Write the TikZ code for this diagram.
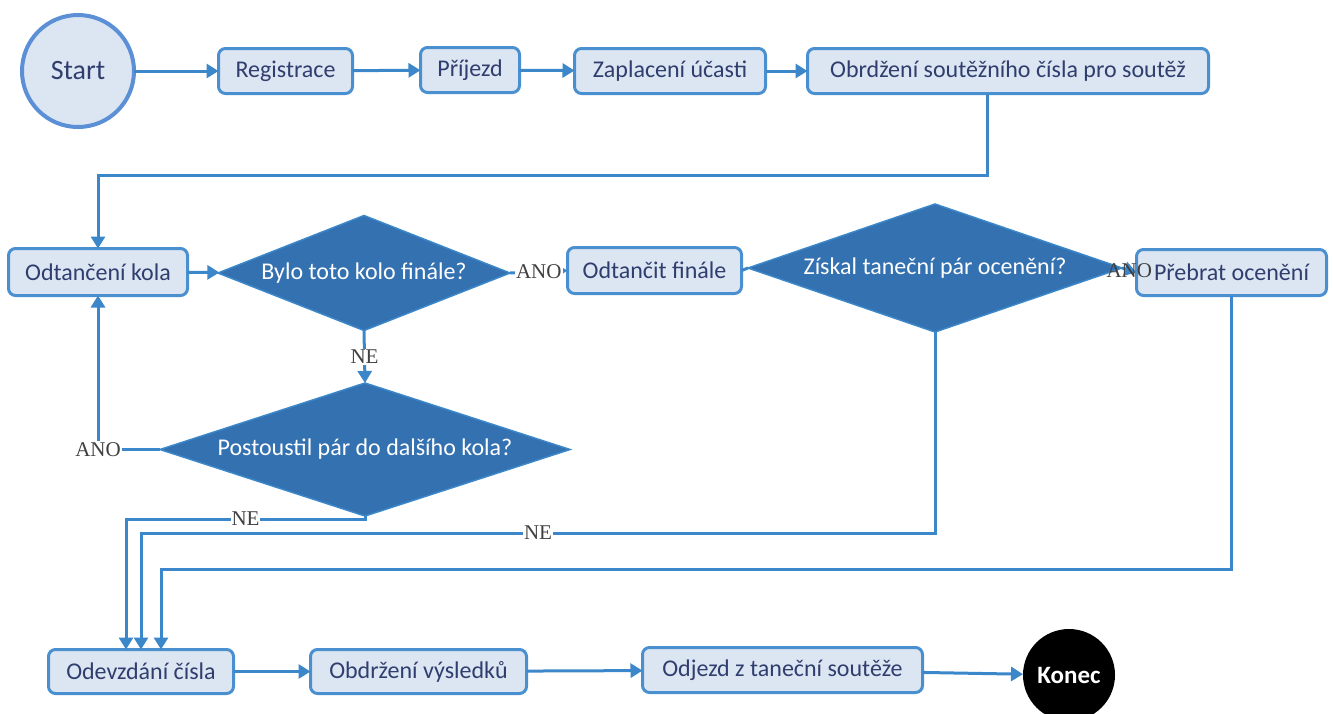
\documentclass[tikz,border=0pt]{standalone}
\usepackage{fontspec}
\setmainfont{Carlito}
\newfontfamily\lblfont{Liberation Serif}
\usetikzlibrary{shapes.geometric,arrows.meta}
\definecolor{boxfill}{HTML}{DCE6F2}
\definecolor{boxline}{HTML}{4A90D0}
\definecolor{startline}{HTML}{5B8FD6}
\definecolor{conn}{HTML}{3B87C9}
\definecolor{decfill}{HTML}{3471B1}
\definecolor{navy}{HTML}{2F3E6E}
\definecolor{lblgray}{HTML}{404040}
\begin{document}
\begin{tikzpicture}[x=1pt,y=-1pt,
  every node/.style={inner sep=0pt, outer sep=0pt},
  stepbox/.style={draw=boxline, fill=boxfill, line width=3pt, rounded corners=7pt,
    text=navy, font=\fontsize{24}{28}\selectfont},
  decision/.style={diamond, draw=conn, fill=decfill, line width=1.5pt,
    text=white, font=\fontsize{24}{28}\selectfont},
  link/.style={draw=conn, line width=3pt, -{Triangle[length=12pt,width=14pt]}},
  plainlink/.style={draw=conn, line width=3pt},
  lbl/.style={font=\lblfont\fontsize{21}{24}\selectfont, text=lblgray, inner sep=1pt},
  lblbg/.style={lbl, fill=white}]
\useasboundingbox (0,0) rectangle (1333,713);

% start and end
\node[circle, draw=startline, fill=boxfill, line width=4pt, minimum size=112pt,
  text=navy, font=\fontsize{28}{32}\selectfont] (start) at (78,71) {Start};
\node[circle, fill=black, minimum size=92pt, text=white,
  font=\bfseries\fontsize{25}{28}\selectfont] (konec) at (1069,675) {Konec};

% process steps
\node[stepbox, minimum width=134pt, minimum height=45pt] (reg) at (285.5,71) {Registrace};
\node[stepbox, minimum width=99pt, minimum height=45pt] (prj) at (470,70) {Příjezd};
\node[stepbox, minimum width=191pt, minimum height=45pt] (zap) at (670,71) {Zaplacení účasti};
\node[stepbox, minimum width=401pt, minimum height=45pt] (obr) at (1008,71) {Obrdžení soutěžního čísla pro soutěž};
\node[stepbox, minimum width=179pt, minimum height=47pt] (odt) at (98,272) {Odtančení kola};
\node[stepbox, minimum width=174pt, minimum height=46pt] (fin) at (654.5,270.5) {Odtančit finále};
\node[stepbox, minimum width=190pt, minimum height=46pt] (prb) at (1231.5,272.5) {Přebrat ocenění};
\node[stepbox, minimum width=185pt, minimum height=44pt] (ode) at (141,671.5) {Odevzdání čísla};
\node[stepbox, minimum width=216pt, minimum height=44pt] (obd) at (418.5,671.5) {Obdržení výsledků};
\node[stepbox, minimum width=280pt, minimum height=45pt] (odj) at (782.5,670) {Odjezd z taneční soutěže};

% decisions
\node[decision, aspect=2.54, minimum width=292pt, minimum height=115pt] (d1) at (364,273) {Bylo toto kolo finále?};
\node[decision, aspect=2.92, minimum width=374pt, minimum height=128pt] (d2) at (935,268) {Získal taneční pár ocenění?};
\node[decision, aspect=3.08, minimum width=410pt, minimum height=133pt] (d3) at (365,449.5) {Postoustil pár do dalšího kola?};

% top row
\draw[link] (start) -- (reg);
\draw[link] (reg) -- (prj);
\draw[link] (prj) -- (zap);
\draw[link] (zap) -- (obr);
\draw[link] ([xshift=-21pt]obr.south) -- ++(0,82) -| (odt.north);

% rounds and final
\draw[link] (odt) -- (d1);
\draw[link] (d1.east) -- node[lblbg]{ANO} (fin.west);
\draw[plainlink] (fin.east) -- (d2.west);
\draw[link] (d1.south) -- node[lblbg]{NE} (d3.north);
\draw[link] (d3.west) -| node[lblbg]{ANO} (odt.south);
\draw[link] (d2.east) -- node[lbl]{ANO} (prb.west);

% towards handing in the number
\draw[link] (d3.south) -- ++(0,3) -| node[lblbg, pos=0.25]{NE} ([xshift=-15pt]ode.north);
\draw[link] (d2.south) -- ++(0,201) -| node[lblbg, pos=0.25]{NE} (ode.north);
\draw[link] (prb.south) -- ++(0,274) -| ([xshift=20pt]ode.north);

% bottom row
\draw[link] (ode) -- (obd);
\draw[link] (obd) -- (odj);
\draw[link] (odj) -- (konec);
\end{tikzpicture}
\end{document}
